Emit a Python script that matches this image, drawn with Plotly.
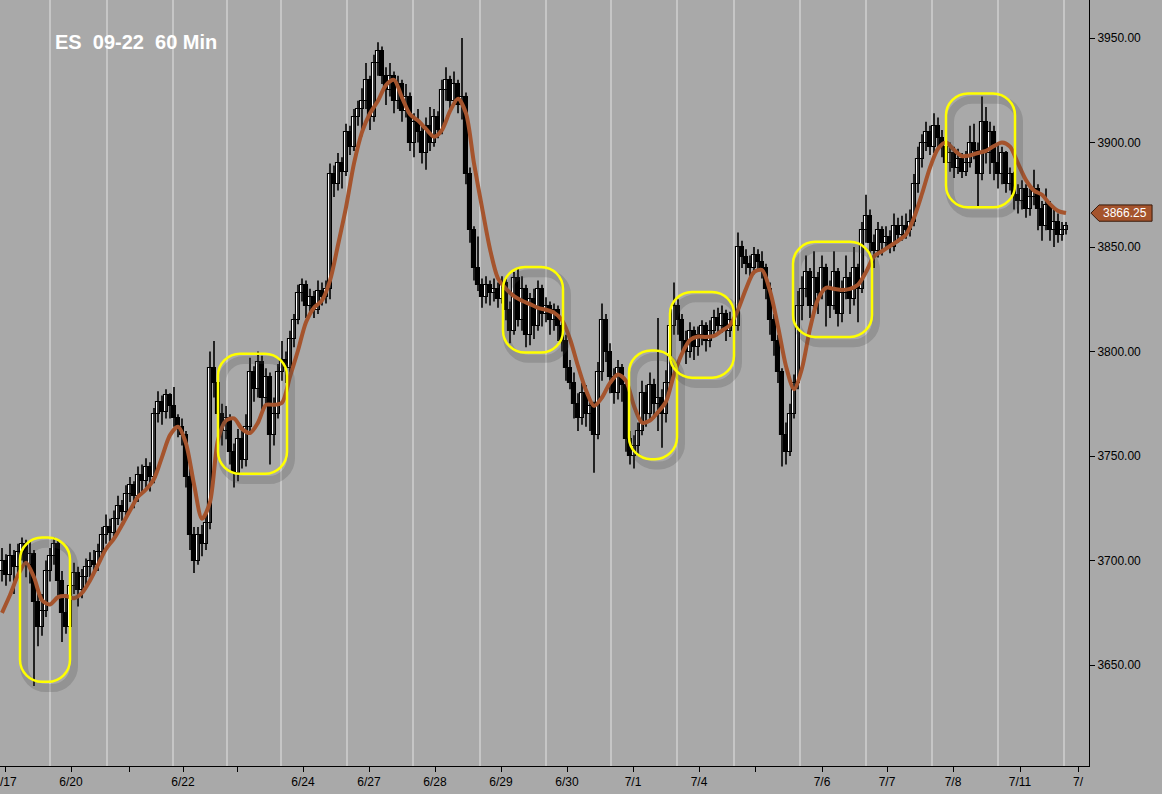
import plotly.graph_objects as go

# ES 09-22, 60 min bars (bar index 0 = first bar shown, 6/17)
opens = [
    3695, 3700, 3693, 3702, 3697, 3704, 3708, 3698, 3703, 3680,
    3668, 3676, 3695, 3702, 3708, 3690, 3675, 3668, 3688, 3694,
    3686, 3692, 3697, 3700, 3698, 3704, 3712, 3716, 3713, 3720,
    3726, 3723, 3732, 3736, 3731, 3741, 3738, 3745, 3740, 3770,
    3776, 3771, 3779, 3774, 3768, 3764, 3760, 3740, 3712, 3700,
    3712, 3708, 3718, 3792, 3785, 3770, 3762, 3768, 3752, 3742,
    3758, 3748, 3764, 3790, 3782, 3795, 3778, 3788, 3760, 3770,
    3790, 3796, 3792, 3806, 3815, 3828, 3832, 3822, 3826, 3820,
    3829, 3826, 3830, 3885, 3880, 3890, 3886, 3905, 3898, 3912,
    3916, 3920, 3930, 3912, 3938, 3944, 3932, 3925, 3932, 3920,
    3928, 3915, 3922, 3900, 3910, 3905, 3895, 3908, 3900, 3912,
    3906, 3925, 3930, 3920, 3928, 3918, 3922, 3885, 3858, 3840,
    3832, 3826, 3832, 3828, 3830, 3825, 3833, 3820, 3810, 3835,
    3815, 3830, 3808, 3825, 3812, 3830, 3818, 3822, 3815, 3820,
    3812, 3805, 3792, 3785, 3775, 3768, 3780, 3770, 3774, 3760,
    3790, 3815, 3800, 3788, 3780, 3792, 3784, 3758, 3750, 3755,
    3762, 3780, 3770, 3784, 3775, 3778, 3770, 3785, 3812, 3822,
    3815, 3805, 3800, 3810, 3802, 3808, 3812, 3805, 3810, 3816,
    3812, 3818, 3810, 3815, 3812, 3850, 3845, 3842, 3840, 3846,
    3843, 3840, 3830, 3815, 3805, 3790, 3760, 3752, 3770, 3785,
    3822, 3830, 3838, 3822, 3835, 3828, 3840, 3830, 3822, 3838,
    3818, 3828, 3835, 3825, 3840, 3830, 3858, 3865, 3852, 3848,
    3858, 3852, 3855, 3850, 3860, 3856, 3860, 3858, 3862, 3880,
    3892, 3900, 3905, 3898, 3908, 3902, 3898, 3890, 3895, 3888,
    3892, 3886, 3890, 3900, 3896, 3885, 3910, 3895, 3905, 3890,
    3885, 3895, 3880, 3885, 3875, 3872, 3878, 3868, 3874, 3878,
    3868, 3860, 3870, 3858, 3862, 3856, 3858,
]
highs = [
    3706, 3703, 3708, 3705, 3708, 3711, 3710, 3709, 3705, 3686,
    3684, 3700, 3706, 3711, 3710, 3695, 3684, 3692, 3699, 3697,
    3696, 3701, 3704, 3705, 3708, 3716, 3722, 3720, 3724, 3731,
    3729, 3736, 3740, 3738, 3745, 3746, 3749, 3747, 3773, 3781,
    3779, 3782, 3780, 3783, 3770, 3768, 3762, 3744, 3716, 3716,
    3717, 3722, 3800, 3805, 3790, 3775, 3774, 3770, 3756, 3763,
    3762, 3770, 3797, 3793, 3800, 3798, 3792, 3790, 3778, 3794,
    3805, 3800, 3810, 3818, 3832, 3835, 3834, 3830, 3829, 3834,
    3833, 3834, 3890, 3889, 3895, 3893, 3909, 3908, 3916, 3920,
    3926, 3938, 3932, 3942, 3948, 3946, 3936, 3938, 3934, 3932,
    3930, 3928, 3924, 3914, 3916, 3908, 3912, 3917, 3916, 3915,
    3930, 3936, 3932, 3934, 3930, 3950, 3924, 3888, 3860, 3855,
    3835, 3836, 3834, 3835, 3833, 3836, 3835, 3824, 3838, 3840,
    3836, 3832, 3828, 3830, 3834, 3832, 3826, 3824, 3823, 3822,
    3815, 3808, 3796, 3790, 3780, 3785, 3784, 3778, 3776, 3795,
    3823, 3818, 3804, 3792, 3796, 3794, 3786, 3762, 3760, 3766,
    3786, 3784, 3790, 3787, 3816, 3782, 3791, 3818, 3833, 3825,
    3818, 3810, 3814, 3812, 3812, 3815, 3814, 3815, 3820, 3821,
    3822, 3820, 3819, 3818, 3857, 3853, 3849, 3846, 3850, 3849,
    3848, 3842, 3833, 3818, 3808, 3792, 3766, 3775, 3789, 3829,
    3836, 3846, 3840, 3848, 3838, 3846, 3842, 3834, 3848, 3840,
    3834, 3846, 3838, 3850, 3842, 3862, 3875, 3868, 3856, 3862,
    3860, 3860, 3858, 3866, 3864, 3865, 3866, 3868, 3885, 3898,
    3904, 3910, 3908, 3914, 3912, 3906, 3901, 3900, 3898, 3897,
    3895, 3896, 3908, 3909, 3900, 3922, 3917, 3910, 3908, 3900,
    3898, 3896, 3888, 3886, 3880, 3882, 3880, 3878, 3887, 3880,
    3872, 3878, 3872, 3869, 3866, 3862, 3862,
]
lows = [
    3690, 3688, 3690, 3684, 3694, 3700, 3692, 3689, 3640, 3659,
    3664, 3673, 3690, 3698, 3683, 3661, 3665, 3666, 3684, 3678,
    3682, 3688, 3692, 3693, 3695, 3702, 3708, 3709, 3710, 3717,
    3719, 3721, 3728, 3725, 3728, 3732, 3735, 3733, 3737, 3766,
    3765, 3768, 3768, 3764, 3759, 3755, 3735, 3705, 3694, 3698,
    3702, 3705, 3715, 3778, 3762, 3755, 3758, 3746, 3735, 3738,
    3744, 3745, 3762, 3776, 3778, 3772, 3774, 3746, 3755, 3768,
    3786, 3785, 3790, 3802, 3813, 3824, 3816, 3818, 3816, 3818,
    3822, 3823, 3825, 3874, 3877, 3878, 3884, 3894, 3896, 3908,
    3903, 3916, 3906, 3910, 3932, 3928, 3918, 3922, 3914, 3916,
    3910, 3912, 3896, 3893, 3900, 3890, 3887, 3896, 3898, 3902,
    3904, 3920, 3915, 3918, 3914, 3911, 3880, 3852, 3834, 3829,
    3821, 3823, 3822, 3824, 3821, 3823, 3815, 3804, 3808, 3812,
    3810, 3802, 3803, 3806, 3810, 3812, 3814, 3808, 3810, 3805,
    3800, 3786, 3782, 3768, 3762, 3765, 3764, 3762, 3742, 3758,
    3786, 3795, 3780, 3775, 3777, 3776, 3752, 3746, 3744, 3750,
    3760, 3764, 3767, 3768, 3762, 3754, 3766, 3782, 3808, 3808,
    3798, 3794, 3797, 3796, 3798, 3803, 3800, 3802, 3807, 3808,
    3809, 3805, 3807, 3805, 3810, 3840, 3837, 3836, 3837, 3838,
    3835, 3825, 3808, 3798, 3785, 3745, 3746, 3750, 3768, 3782,
    3815, 3826, 3816, 3820, 3818, 3825, 3812, 3816, 3820, 3812,
    3814, 3825, 3818, 3822, 3814, 3828, 3852, 3846, 3840, 3845,
    3846, 3850, 3847, 3848, 3852, 3853, 3854, 3855, 3860, 3876,
    3888, 3896, 3894, 3895, 3897, 3893, 3885, 3886, 3883, 3885,
    3883, 3884, 3888, 3892, 3869, 3882, 3890, 3885, 3882, 3878,
    3880, 3876, 3877, 3868, 3866, 3868, 3864, 3865, 3870, 3858,
    3853, 3858, 3853, 3850, 3852, 3853, 3856,
]
closes = [
    3700, 3693, 3702, 3697, 3704, 3708, 3698, 3703, 3680, 3668,
    3676, 3695, 3702, 3708, 3690, 3675, 3668, 3688, 3694, 3686,
    3692, 3697, 3700, 3698, 3704, 3712, 3716, 3713, 3720, 3726,
    3723, 3732, 3736, 3731, 3741, 3738, 3745, 3740, 3770, 3776,
    3771, 3779, 3774, 3768, 3764, 3760, 3740, 3712, 3700, 3712,
    3708, 3718, 3792, 3785, 3770, 3762, 3768, 3752, 3742, 3758,
    3748, 3764, 3790, 3782, 3795, 3778, 3788, 3760, 3770, 3790,
    3796, 3792, 3806, 3815, 3828, 3832, 3822, 3826, 3820, 3829,
    3826, 3830, 3885, 3880, 3890, 3886, 3905, 3898, 3912, 3916,
    3920, 3930, 3912, 3938, 3944, 3932, 3925, 3932, 3920, 3928,
    3915, 3922, 3900, 3910, 3905, 3895, 3908, 3900, 3912, 3906,
    3925, 3930, 3920, 3928, 3918, 3922, 3885, 3858, 3840, 3832,
    3826, 3832, 3828, 3830, 3825, 3833, 3820, 3810, 3835, 3815,
    3830, 3808, 3825, 3812, 3830, 3818, 3822, 3815, 3820, 3812,
    3805, 3792, 3785, 3775, 3768, 3780, 3770, 3774, 3760, 3790,
    3815, 3800, 3788, 3780, 3792, 3784, 3758, 3750, 3755, 3762,
    3780, 3770, 3784, 3775, 3778, 3770, 3785, 3812, 3822, 3815,
    3805, 3800, 3810, 3802, 3808, 3812, 3805, 3810, 3816, 3812,
    3818, 3810, 3815, 3812, 3850, 3845, 3842, 3840, 3846, 3843,
    3840, 3830, 3815, 3805, 3790, 3760, 3752, 3770, 3785, 3822,
    3830, 3838, 3822, 3835, 3828, 3840, 3830, 3822, 3838, 3818,
    3828, 3835, 3825, 3840, 3830, 3858, 3865, 3852, 3848, 3858,
    3852, 3855, 3850, 3860, 3856, 3860, 3858, 3862, 3880, 3892,
    3900, 3905, 3898, 3908, 3902, 3898, 3890, 3895, 3888, 3892,
    3886, 3890, 3900, 3896, 3885, 3910, 3895, 3905, 3890, 3885,
    3895, 3880, 3885, 3875, 3872, 3878, 3868, 3874, 3878, 3868,
    3860, 3870, 3858, 3862, 3856, 3858, 3860,
]

# smoothed average (brown), read every 2nd bar
ma_vals = [
    3675, 3683.5, 3693, 3699, 3692, 3681, 3679, 3682.5, 3683, 3682,
    3684.5, 3690.5, 3698, 3705.5, 3710.5, 3717, 3724, 3730.5, 3734, 3739,
    3749.5, 3760, 3764, 3756, 3736.5, 3720, 3728, 3757.7, 3767, 3768,
    3763, 3761, 3766, 3774.5, 3774.5, 3775.5, 3788, 3800.5, 3814, 3821,
    3824.5, 3834, 3851, 3869, 3890, 3905, 3914, 3920, 3927.5, 3930,
    3921.5, 3913.5, 3910.5, 3906.5, 3902.8, 3906, 3915, 3921, 3914, 3890,
    3869, 3849, 3835, 3830, 3826.5, 3824.3, 3822.7, 3820.9, 3820, 3818.6,
    3815, 3806, 3793, 3781.5, 3774, 3778, 3785, 3789, 3786, 3774,
    3766, 3767, 3771, 3776, 3789, 3799, 3805.5, 3807.2, 3807, 3807.5,
    3810, 3812.7, 3820, 3830, 3838, 3839, 3829, 3812, 3793, 3782,
    3792, 3811, 3825, 3830.5, 3830, 3829.5, 3830, 3832, 3838, 3845.5,
    3848, 3850.5, 3853, 3856, 3864, 3875.5, 3888, 3897, 3900, 3896.5,
    3893.5, 3893.8, 3895, 3896, 3898.3, 3900, 3898, 3890, 3882, 3877,
    3875, 3870.5, 3867.3, 3866.25,
]
ma_bars = list(range(0, 2 * len(ma_vals), 2))

# session separators and date ticks (bar units)
session_breaks = [12, 26.25, 42.75, 56.25, 69.75, 86.25, 102.75, 119.5, 136,
                  152.25, 168.75, 183, 199.5, 216, 232.5, 249, 265.5]
tick_bars = [0.75, 17.25, 31.75, 45.25, 58.75, 75.25, 91.75, 108.25, 124.75,
             141.25, 157.75, 174.25, 188.25, 205, 221.25, 237.75, 254.5, 269]
tick_text = ["", "6/20", "", "6/22", "", "6/24", "6/27", "6/28", "6/29",
             "6/30", "7/1", "7/4", "", "7/6", "7/7", "7/8", "7/11", "7/"]
first_label = "/17"   # 6/17, clipped by the left edge

# highlighted consolidation zones: (bar from, bar to, low, high)
zones = [
    (4.5, 17, 3642, 3711),
    (54, 71.25, 3741.5, 3799),
    (125.25, 140.25, 3799.5, 3840.5),
    (156.75, 168.75, 3748.5, 3800.5),
    (167, 183, 3787.5, 3828.5),
    (197.75, 217.5, 3807, 3852.5),
    (236, 253.25, 3869, 3923.5),
]

bars = list(range(len(closes)))
BG = "#a9a9a9"
BROWN = "#a5542d"


def rounded_box(x0, x1, y0, y1, rx, ry):
    k = 0.45
    return (f"M {x0+rx},{y1} L {x1-rx},{y1} "
            f"C {x1-rx*k},{y1} {x1},{y1-ry*k} {x1},{y1-ry} "
            f"L {x1},{y0+ry} "
            f"C {x1},{y0+ry*k} {x1-rx*k},{y0} {x1-rx},{y0} "
            f"L {x0+rx},{y0} "
            f"C {x0+rx*k},{y0} {x0},{y0+ry*k} {x0},{y0+ry} "
            f"L {x0},{y1-ry} "
            f"C {x0},{y1-ry*k} {x0+rx*k},{y1} {x0+rx},{y1} Z")


fig = go.Figure()

# wicks: one broken line through all bars
wick_x, wick_y = [], []
for i, h, l in zip(bars, highs, lows):
    wick_x += [i, i, None]
    wick_y += [l, h, None]
fig.add_trace(go.Scatter(x=wick_x, y=wick_y, mode="lines",
                         line=dict(color="black", width=1.6),
                         hoverinfo="skip", showlegend=False))

# bodies: white for up bars, black for down bars
body_base = [min(o, c) for o, c in zip(opens, closes)]
body_len = [max(abs(c - o), 0.8) for o, c in zip(opens, closes)]
body_fill = ["white" if c >= o else "black" for o, c in zip(opens, closes)]
fig.add_trace(go.Bar(x=bars, y=body_len, base=body_base, width=0.9,
                     marker=dict(color=body_fill, line=dict(color="black", width=1.1)),
                     hoverinfo="skip", showlegend=False))

fig.add_trace(go.Scatter(
    x=ma_bars, y=ma_vals, mode="lines",
    line=dict(color=BROWN, width=4, shape="spline", smoothing=0.8),
    hoverinfo="skip", showlegend=False,
))

shapes = []
for b in session_breaks:
    shapes.append(dict(type="line", xref="x", yref="paper", x0=b, x1=b, y0=0, y1=1,
                       line=dict(color="#c6c6c6", width=2), layer="below"))

for x0, x1, y0, y1 in zones:
    rx = min(5.5, (x1 - x0) / 2)
    ry = 10.5 if rx < (x1 - x0) / 2 else 12
    # soft shadow first, then the yellow outline
    shapes.append(dict(type="path", path=rounded_box(x0 + 1, x1 + 1, y0 - 3, y1 - 3, rx, ry),
                       line=dict(color="rgba(70,70,70,0.22)", width=8), layer="above"))
    shapes.append(dict(type="path", path=rounded_box(x0, x1, y0, y1, rx, ry),
                       line=dict(color="#ffff00", width=2.5), layer="above"))

# last value tag on the price axis
last = ma_vals[-1]
shapes.append(dict(type="path", xref="paper", yref="y",
                   path=f"M 1.0018,{last} L 1.0092,{last+3.9} L 1.0579,{last+3.9} "
                        f"L 1.0579,{last-3.9} L 1.0092,{last-3.9} Z",
                   fillcolor=BROWN, line=dict(color="#3a1a0a", width=1), layer="above"))

annotations = [
    dict(x=53 / 1089, y=0.945, xref="paper", yref="paper", xanchor="left", yanchor="middle",
         text="<b>ES\u00a0\u00a009-22\u00a0\u00a060 Min</b>", showarrow=False,
         font=dict(family="Liberation Sans, Arial", size=20, color="white")),
    dict(x=1.0335, y=last, xref="paper", yref="y", xanchor="center", yanchor="middle",
         text=f"{last:.2f}", showarrow=False,
         font=dict(family="Liberation Sans, Arial", size=12, color="white")),
    dict(x=0, y=-0.0085, xref="paper", yref="paper", xanchor="left", yanchor="top",
         xshift=-2, text=first_label, showarrow=False,
         font=dict(family="Liberation Sans, Arial", size=12, color="black")),
]

fig.update_layout(
    width=1162, height=794,
    margin=dict(l=0, r=73, t=0, b=28),
    paper_bgcolor=BG, plot_bgcolor=BG,
    shapes=shapes, annotations=annotations, bargap=0,
    font=dict(family="Liberation Sans, Arial", size=12, color="black"),
    xaxis=dict(range=[-0.5, 271.75], tickvals=tick_bars, ticktext=tick_text,
               showgrid=False, zeroline=False, showline=True, linecolor="black", linewidth=1,
               ticks="outside", ticklen=5, tickcolor="black",
               tickfont=dict(size=12, color="black")),
    yaxis=dict(side="right", range=[3601.7, 3968.2],
               tickvals=[3650, 3700, 3750, 3800, 3850, 3900, 3950], tickformat=".2f",
               showgrid=False, zeroline=False, showline=True, linecolor="black", linewidth=1,
               ticks="outside", ticklen=5, tickcolor="black",
               tickfont=dict(size=12, color="black")),
)

fig.write_html("out.html", config={"displayModeBar": False},
               post_script="document.body.style.margin='0';"
                           "document.body.style.overflow='hidden';")
